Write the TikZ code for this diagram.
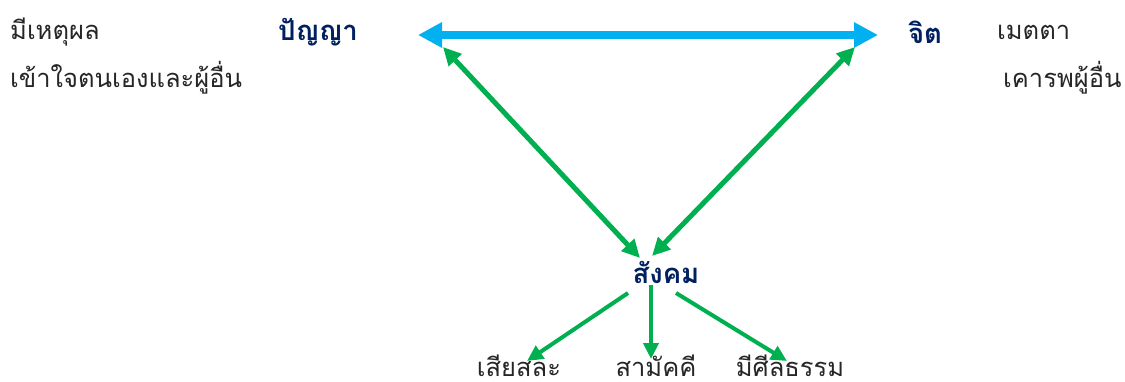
\documentclass[tikz,border=0pt]{standalone}
\usepackage{fontspec}
\newfontfamily\thai[Script=Thai]{Loma}
\usetikzlibrary{arrows.meta}
\definecolor{tblue}{HTML}{00B0F0}
\definecolor{tgreen}{HTML}{00B050}
\definecolor{dblue}{HTML}{002060}
\begin{document}
\begin{tikzpicture}[x=1pt,y=-1pt,
  lbl/.style={font=\thai\fontsize{25.5}{30}\selectfont, inner sep=0pt, anchor=west, text=black!85},
  bot/.style={lbl, anchor=base, text height=17pt, text depth=2pt},
  head/.style={font=\thai\bfseries\fontsize{27.5}{32}\selectfont, inner sep=0pt, text=dblue},
  bluearr/.style={draw=tblue, line width=8pt, {Triangle[length=24pt,width=24pt]}-{Triangle[length=24pt,width=24pt]}},
  greenarr/.style={draw=tgreen, line width=5pt, {Triangle[length=18pt,width=17pt]}-{Triangle[length=18pt,width=17pt]}},
  downarr/.style={draw=tgreen, line width=4pt, -{Triangle[length=16pt,width=15pt]}}]
\useasboundingbox (0,0) rectangle (1125,382);
\node[lbl] (r1) at (10,32) {มีเหตุผล};
\node[lbl] (r2) at (10,78) {เข้าใจตนเองและผู้อื่น};
\node[head] (w) at (318,32) {ปัญญา};
\node[head] (j) at (925,32) {จิต};
\node[lbl] (m1) at (997,32) {เมตตา};
\node[lbl] (m2) at (1003,78) {เคารพผู้อื่น};
\node[head] (s) at (666,272) {สังคม};
\node[bot] (b1) at (519,376) {เสียสละ};
\node[bot] (b2) at (656,376) {สามัคคี};
\node[bot] (b3) at (790,376) {มีศีลธรรม};
\coordinate (aL) at (418,35);
\coordinate (aR) at (878,35);
\coordinate (gL) at (443,47);
\coordinate (gR) at (855,47);
\coordinate (sL) at (640,258);
\coordinate (sR) at (652,256);
\coordinate (d1) at (628,293);
\coordinate (d2) at (651,285);
\coordinate (d3) at (676,293);
\coordinate (e1) at (527,361);
\coordinate (e2) at (651,359);
\coordinate (e3) at (787,361);
\draw[bluearr] (aL) -- (aR);
\draw[greenarr] (gL) -- (sL);
\draw[greenarr] (gR) -- (sR);
\draw[downarr] (d1) -- (e1);
\draw[downarr] (d2) -- (e2);
\draw[downarr] (d3) -- (e3);
\end{tikzpicture}
\end{document}
